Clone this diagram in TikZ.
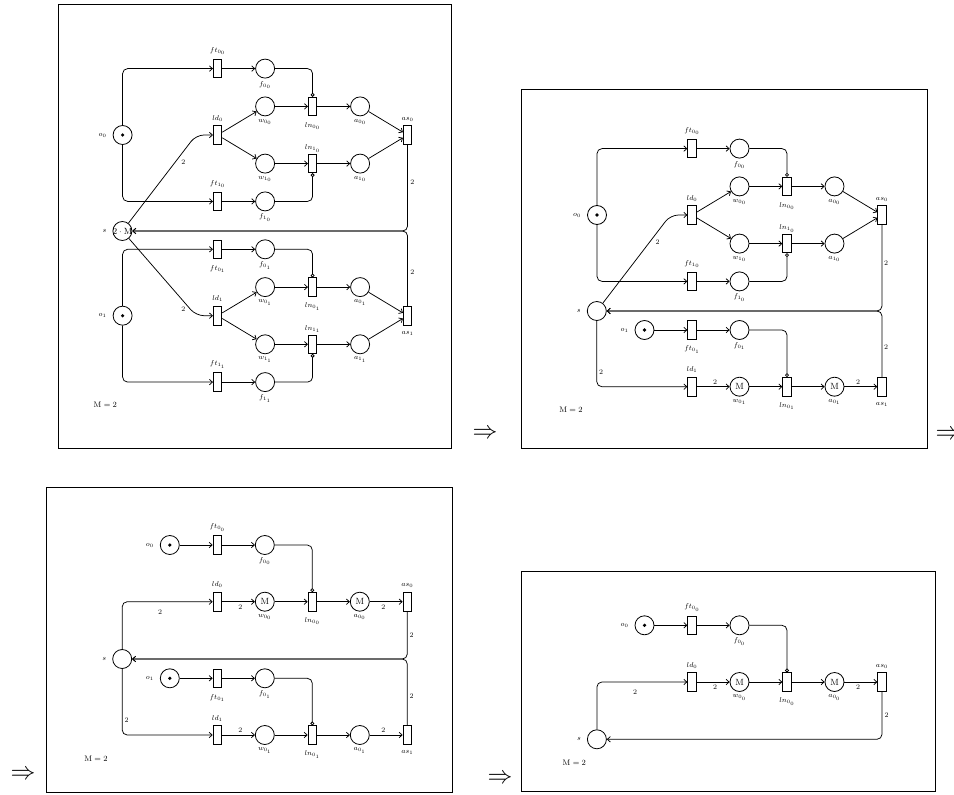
\documentclass[tikz,border=0pt]{standalone}
\usetikzlibrary{arrows.meta}
\tikzset{
  place/.style={circle,draw,line width=0.8pt,minimum size=19pt,inner sep=0pt,font=\small},
  trans/.style={rectangle,draw,line width=0.8pt,minimum width=8.5pt,minimum height=18.5pt,inner sep=0pt},
  arc/.style={line width=0.75pt,-{Straight Barb[length=3pt,width=5.5pt]},rounded corners=5pt},
  inhib/.style={line width=0.75pt,-{Circle[open,length=3.8pt,width=3.8pt]},rounded corners=5pt},
  every label/.style={font=\scriptsize,inner sep=1pt},
  tabove/.style={label={[label distance=3pt]above:#1}},
  tabovei/.style={label={[label distance=0.5pt]above:#1}},
  tbelow/.style={label={[label distance=5pt]below:#1}},
  pbelow/.style={label={[label distance=1.5pt]below:#1}},
  pleft/.style={label={[label distance=5pt]left:#1}},
  wt/.style={font=\scriptsize,inner sep=0pt},
  mtext/.style={font=\footnotesize,inner sep=0pt},
  frame/.style={draw,line width=0.9pt},
  implies/.style={font=\Huge,inner sep=0pt},
}
% first form: two parallel branches per half
\newcommand{\HalfA}[3]{%
\begin{scope}[shift={(#3)}]
  \node[place,pleft={$o_#1$}] (o#1) at (-95,0) {};
  \fill (o#1.center) circle (1.8pt);
  \node[trans,t#2={$ft_{0_#1}$}] (ft0#1) at (0,-66.4) {};
  \node[place,pbelow={$f_{0_#1}$}] (f0#1) at (47.5,-66.4) {};
  \node[trans,tabove={$ld_#1$}] (ld#1) at (0,0) {};
  \node[place,pbelow={$w_{0_#1}$}] (w0#1) at (47.5,-28.6) {};
  \node[place,pbelow={$w_{1_#1}$}] (w1#1) at (47.5,28.6) {};
  \node[trans,tbelow={$ln_{0_#1}$}] (ln0#1) at (95,-28.6) {};
  \node[trans,tabovei={$ln_{1_#1}$}] (ln1#1) at (95,28.6) {};
  \node[place,pbelow={$a_{0_#1}$}] (a0#1) at (142.5,-28.6) {};
  \node[place,pbelow={$a_{1_#1}$}] (a1#1) at (142.5,28.6) {};
  \node[trans,t#2={$as_#1$}] (as#1) at (190,0) {};
  \node[trans,tabove={$ft_{1_#1}$}] (ft1#1) at (0,66.4) {};
  \node[place,pbelow={$f_{1_#1}$}] (f1#1) at (47.5,66.4) {};
  \draw[arc] (o#1) |- (ft0#1);
  \draw[arc] (o#1) |- (ft1#1);
  \draw[arc] (ft0#1) -- (f0#1);
  \draw[arc] (ft1#1) -- (f1#1);
  \draw[inhib] (f0#1) -| (ln0#1);
  \draw[inhib] (f1#1) -| (ln1#1);
  \draw[arc] (ld#1) -- (w0#1);
  \draw[arc] (ld#1) -- (w1#1);
  \draw[arc] (w0#1) -- (ln0#1);
  \draw[arc] (w1#1) -- (ln1#1);
  \draw[arc] (ln0#1) -- (a0#1);
  \draw[arc] (ln1#1) -- (a1#1);
  \draw[arc] (a0#1) -- (as#1);
  \draw[arc] (a1#1) -- (as#1);
\end{scope}}
% reduced form: one branch per half
\newcommand{\HalfB}[5]{%
\begin{scope}[shift={(#5)}]
  \node[place,pleft={$o_#1$}] (o#1) at (-47.5,-56.7) {};
  \fill (o#1.center) circle (1.8pt);
  \node[trans,t#2={$ft_{0_#1}$}] (ft0#1) at (0,-56.7) {};
  \node[place,pbelow={$f_{0_#1}$}] (f0#1) at (47.5,-56.7) {};
  \node[trans,tabove={$ld_#1$}] (ld#1) at (0,0) {};
  \node[place,pbelow={$w_{0_#1}$}] (w0#1) at (47.5,0) {#4};
  \node[trans,tbelow={$ln_{0_#1}$}] (ln0#1) at (95,0) {};
  \node[place,pbelow={$a_{0_#1}$}] (a0#1) at (142.5,0) {#4};
  \node[trans,t#2={$as_#1$}] (as#1) at (190,0) {};
  \draw[arc] (o#1) -- (ft0#1);
  \draw[arc] (ft0#1) -- (f0#1);
  \draw[inhib] (f0#1) -| (ln0#1);
  \draw[arc] (ld#1) -- (w0#1);
  \draw[arc] (w0#1) -- (ln0#1);
  \draw[arc] (ln0#1) -- (a0#1);
  \draw[arc] (a0#1) -- (as#1);
  \node[wt] (wl#1) at (23,#3) {2};
  \node[wt] (wr#1) at (166,#3) {2};
\end{scope}}
\begin{document}
\begin{tikzpicture}[x=1pt,y=-1pt]
\useasboundingbox (0,0) rectangle (954,795);
% frames
\draw[frame] (58,4.6) rectangle (451.5,448);
\draw[frame] (521.7,89) rectangle (927,448.3);
\draw[frame] (46.7,487.7) rectangle (452.3,792);
\draw[frame] (521.7,571.7) rectangle (935,791.5);
% implication arrows
\node[implies] (impa) at (485,434) {$\Rightarrow$};
\node[implies] (impb) at (948,435) {$\Rightarrow$};
\node[implies] (impc) at (23,775) {$\Rightarrow$};
\node[implies] (impd) at (500,779) {$\Rightarrow$};
% ---------- panel 1 ----------
\begin{scope}[name prefix=pa-]
  \HalfA{0}{above}{217.6,135}
  \HalfA{1}{below}{217.6,315.7}
  \node[place,pleft={$s$}] (s) at (122.4,231) {};
  \node[font=\small,inner sep=0pt] (sm) at (s) {$2\cdot\mathrm{M}$};
  \draw[arc,rounded corners=8pt] (s) -- (196,135) -- (ld0);
  \draw[arc,rounded corners=8pt] (s) -- (196,315.7) -- (ld1);
  \draw[arc] (as0) |- (s);
  \draw[arc] (as1) |- (s);
  \node[wt] (k1) at (183.3,161.7) {2};
  \node[wt] (k2) at (183.3,309.3) {2};
  \node[wt] (k3) at (412.3,182.3) {2};
  \node[wt] (k4) at (412.3,271.7) {2};
  \node[mtext] (m) at (105.3,405) {$\mathrm{M}=2$};
\end{scope}
% ---------- panel 2 ----------
\begin{scope}[name prefix=pb-, shift={(474.4,80)}]
  \HalfA{0}{above}{217.6,135}
  \HalfB{1}{below}{-5}{M}{217.6,306.7}
  \node[place,pleft={$s$}] (s) at (122.4,231) {};
  \draw[arc,rounded corners=8pt] (s) -- (196,135) -- (ld0);
  \draw[arc] (s) |- (ld1);
  \draw[arc] (as0) |- (s);
  \draw[arc] (as1) |- (s);
  \node[wt] (k1) at (183.3,162.3) {2};
  \node[wt] (k2) at (126.6,291.7) {2};
  \node[wt] (k3) at (411.6,182.7) {2};
  \node[wt] (k4) at (411.6,267.3) {2};
  \node[mtext] (m) at (96.6,330) {$\mathrm{M}=2$};
\end{scope}
% ---------- panel 3 ----------
\begin{scope}[name prefix=pc-]
  \HalfB{0}{above}{5}{M}{217.3,601.7}
  \HalfB{1}{below}{-5}{}{217.3,735}
  \node[place,pleft={$s$}] (s) at (122.2,659) {};
  \draw[arc] (s) |- (ld0);
  \draw[arc] (s) |- (ld1);
  \draw[arc] (as0) |- (s);
  \draw[arc] (as1) |- (s);
  \node[wt] (k1) at (160,611.7) {2};
  \node[wt] (k2) at (126.7,720) {2};
  \node[wt] (k3) at (411.7,635) {2};
  \node[wt] (k4) at (411.7,695.7) {2};
  \node[mtext] (m) at (96,758.3) {$\mathrm{M}=2$};
\end{scope}
% ---------- panel 4 ----------
\begin{scope}[name prefix=pd-, shift={(474.7,80.3)}]
  \HalfB{0}{above}{5}{M}{217.3,601.7}
  \node[place,pleft={$s$}] (s) at (122.2,659) {};
  \draw[arc] (s) |- (ld0);
  \draw[arc] (as0) |- (s);
  \node[wt] (k1) at (160.3,611.4) {2};
  \node[wt] (k3) at (412,634.7) {2};
  \node[mtext] (m) at (99.6,682.4) {$\mathrm{M}=2$};
\end{scope}
\end{tikzpicture}
\end{document}
